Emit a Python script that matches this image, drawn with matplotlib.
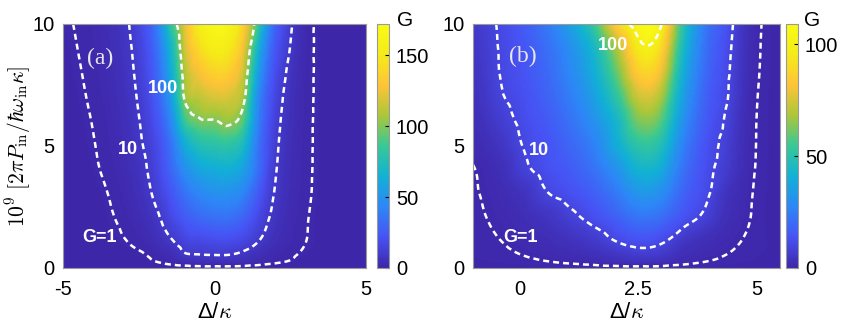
import numpy as np
import matplotlib
matplotlib.use('Agg')
import matplotlib.pyplot as plt
import matplotlib.tri as mtri
from matplotlib.colors import LinearSegmentedColormap

# detuning (columns) and pump power (rows) of the gain maps
delta_a = [-5.0, -4.5, -4.0, -3.5, -3.0, -2.5, -2.0, -1.5, -1.0, -0.5, 0.0,
           0.5, 1.0, 1.5, 2.0, 2.5, 3.0, 3.5, 4.0, 4.5, 5.0]
power_a = [0, 0.25, 0.5, 1, 2, 3, 4, 5, 6, 7, 8, 9, 10]
gain_a = [
    [0.1, 0.1, 0.1, 0.1, 0.1, 0.1, 0.15, 0.3, 0.42, 0.5, 0.52, 0.52, 0.45, 0.35, 0.22, 0.14, 0.1, 0.1, 0.1, 0.1, 0.1],
    [0.1, 0.1, 0.1, 0.1, 0.15, 0.35, 0.85, 1.9, 3.3, 4.3, 4.7, 4.6, 3.8, 2.4, 1.4, 0.8, 0.4, 0.2, 0.13, 0.1, 0.1],
    [0.1, 0.1, 0.13, 0.2, 0.3, 0.6, 1.5, 3.4, 8.0, 9.0, 9.4, 9.2, 7.0, 4.0, 2.1, 1.25, 0.65, 0.3, 0.18, 0.12, 0.1],
    [0.1, 0.12, 0.2, 0.36, 0.76, 1.62, 3.46, 7.4, 13.5, 15.5, 17, 17, 14, 8.65, 4.04, 2.01, 1.0, 0.5, 0.25, 0.15, 0.1],
    [0.1, 0.17, 0.33, 0.71, 1.53, 3.29, 7.04, 15.1, 24, 30, 33, 33, 27, 15.5, 7.1, 2.85, 1.19, 0.5, 0.25, 0.15, 0.1],
    [0.12, 0.21, 0.46, 1.02, 2.24, 4.92, 11.0, 21, 34, 43, 47, 47, 40, 23, 9.2, 3.63, 1.45, 0.58, 0.28, 0.17, 0.1],
    [0.18, 0.35, 0.72, 1.51, 3.14, 6.5, 14, 28, 46, 58, 62, 63, 54, 31, 11, 4.1, 1.58, 0.6, 0.29, 0.17, 0.1],
    [0.2, 0.43, 0.9, 1.89, 3.95, 8.26, 16, 32, 60, 75, 79, 80, 68, 33, 12.5, 4.6, 1.66, 0.6, 0.28, 0.16, 0.1],
    [0.26, 0.54, 1.1, 2.27, 4.66, 9.56, 19.7, 40.4, 83, 97, 98.5, 103, 86, 38, 14.3, 5.2, 1.76, 0.59, 0.28, 0.16, 0.1],
    [0.34, 0.69, 1.38, 2.75, 5.5, 11.1, 23.4, 49.5, 101, 112.8, 119, 118.5, 101, 41.6, 16.7, 6.0, 1.9, 0.6, 0.28, 0.16, 0.1],
    [0.44, 0.85, 1.66, 3.23, 6.28, 12.5, 26.6, 56.5, 106.6, 127.3, 137, 134, 110.5, 51, 20.2, 7.4, 2.08, 0.59, 0.28, 0.16, 0.1],
    [0.54, 1.03, 1.95, 3.69, 6.99, 13.9, 29.5, 62.7, 114.5, 142, 154, 149, 121, 61, 24.5, 9.7, 2.34, 0.56, 0.27, 0.16, 0.1],
    [0.66, 1.23, 2.28, 4.2, 7.8, 15.9, 34, 76, 122, 155, 169, 163, 133, 78, 30, 11.8, 2.65, 0.52, 0.25, 0.15, 0.1],
]

delta_b = [-1.0, -0.5, 0.0, 0.5, 1.0, 1.5, 2.0, 2.5, 3.0, 3.5, 4.0, 4.5, 5.0, 5.5]
power_b = [0, 0.25, 0.5, 1, 2, 3, 4, 5, 6, 7, 8, 9, 10]
gain_b = [
    [0.2, 0.25, 0.3, 0.36, 0.43, 0.5, 0.56, 0.6, 0.58, 0.5, 0.4, 0.3, 0.23, 0.18],
    [0.34, 0.47, 0.65, 0.89, 1.23, 1.69, 2.7, 3.45, 3.0, 1.5, 0.91, 0.56, 0.38, 0.25],
    [0.45, 0.65, 0.94, 1.36, 1.96, 2.83, 4.6, 6.4, 5.6, 2.5, 1.42, 0.81, 0.46, 0.3],
    [0.56, 0.87, 1.37, 2.15, 3.4, 5.3, 9.0, 11.8, 10.0, 4.5, 2.33, 1.2, 0.62, 0.3],
    [0.7, 1.26, 2.28, 4.1, 7.4, 11.5, 16.5, 21.8, 20, 12.5, 7.0, 2.1, 0.75, 0.18],
    [0.8, 1.7, 3.65, 8.8, 12.2, 16.4, 23, 31.5, 29, 17.1, 10.1, 2.9, 0.8, 0.17],
    [0.9, 2.4, 7.6, 12.0, 15.6, 21.1, 30, 41.5, 38, 20.8, 11.4, 5.0, 0.9, 0.18],
    [1.6, 4.2, 9.5, 13.3, 18.3, 25, 38, 51, 47, 24.4, 12.6, 6.0, 0.97, 0.2],
    [2.6, 6.5, 11, 15.2, 21.2, 29.6, 42, 62, 57, 28.7, 14.5, 6.8, 1.0, 0.19],
    [3.5, 8.5, 12.3, 17.3, 24.3, 34.1, 50, 73, 67, 33, 16.2, 8.0, 1.1, 0.2],
    [4.4, 9.4, 13.3, 18.9, 26.9, 38.3, 58, 85, 78, 37.4, 18, 8.5, 1.26, 0.22],
    [5.2, 9.7, 14, 20.2, 29.1, 42, 66, 95.6, 88, 42, 19.6, 9.2, 1.38, 0.23],
    [6.0, 10.1, 15.1, 22.9, 34.2, 51.3, 84, 106.5, 99.5, 47, 21.3, 10.1, 1.52, 0.22],
]

contour_levels = [1, 10, 100]

# parula-like colormap
parula = LinearSegmentedColormap.from_list('parula', [
    (0.2422, 0.1504, 0.6603), (0.2810, 0.3228, 0.9579), (0.1786, 0.5289, 0.9682),
    (0.0689, 0.6948, 0.8394), (0.2161, 0.7843, 0.5923), (0.6720, 0.7793, 0.2227),
    (0.9970, 0.7659, 0.2199), (0.9598, 0.9218, 0.0948), (0.9769, 0.9839, 0.0805)])

plt.rcParams['font.family'] = ['Liberation Sans', 'DejaVu Sans']
plt.rcParams['mathtext.fontset'] = 'cm'
plt.rcParams['axes.unicode_minus'] = False
plt.rcParams['lines.dashed_pattern'] = [2.4, 1.6]

label_font = ['Liberation Sans Narrow', 'Liberation Sans', 'DejaVu Sans']


def draw_panel(ax, cax, delta, power, gain, vmax, cticks):
    x, y = np.meshgrid(delta, power)
    nx = len(delta)
    tris = []
    for j in range(len(power) - 1):
        for i in range(nx - 1):
            k = j * nx + i
            tris.append([k, k + 1, k + nx + 1])
            tris.append([k, k + nx + 1, k + nx])
    tri = mtri.Triangulation(x.ravel(), y.ravel(), tris)
    logg = np.log10(np.asarray(gain, dtype=float).ravel())
    interp = mtri.CubicTriInterpolator(tri, logg, kind='geom')
    fine_tri, fine_log = mtri.UniformTriRefiner(tri).refine_field(logg, triinterpolator=interp, subdiv=4)
    img = ax.tripcolor(fine_tri, 10 ** fine_log, shading='gouraud', cmap=parula,
                       vmin=0, vmax=vmax, rasterized=True)
    ax.tricontour(fine_tri, fine_log, levels=np.log10(contour_levels), colors='white',
                  linestyles='dashed', linewidths=1.8)
    ax.set_xlim(delta[0], delta[-1])
    ax.set_ylim(0, 10)
    ax.set_yticks([0, 5, 10])
    ax.tick_params(direction='in', length=0, labelsize=14.5)
    ax.tick_params(axis='x', pad=9)
    ax.tick_params(axis='y', pad=6)
    for s in ax.spines.values():
        s.set_edgecolor('0.6')
    ax.set_xlabel('Δ/$\\kappa$', fontsize=16, labelpad=2)
    cb = plt.colorbar(img, cax=cax, ticks=cticks)
    cb.outline.set_edgecolor('0.6')
    cax.tick_params(direction='in', length=3, labelsize=14.5, pad=5)


fig = plt.figure(figsize=(8.46, 3.36), dpi=100)
ax1 = fig.add_axes([0.0745, 0.2024, 0.3581, 0.7262])
cax1 = fig.add_axes([0.4456, 0.2024, 0.0142, 0.7262])
ax2 = fig.add_axes([0.5591, 0.2024, 0.3629, 0.7262])
cax2 = fig.add_axes([0.9291, 0.2024, 0.0142, 0.7262])

draw_panel(ax1, cax1, delta_a, power_a, gain_a, 172, [0, 50, 100, 150])
ax1.set_xticks([-5, 0, 5])
ax1.set_ylabel(r'$10^9\ [2\pi P_{\rm in}/\hbar\omega_{\rm in}\kappa]$', fontsize=15.5)
ax1.yaxis.set_label_coords(-0.1, 0.5)

draw_panel(ax2, cax2, delta_b, power_b, gain_b, 109, [0, 50, 100])
ax2.set_xticks([0, 2.5, 5])
ax2.set_xticklabels(['0', '2.5', '5'])

lab = dict(color='white', fontsize=13, fontweight='bold', family=label_font,
           ha='center', va='center')
ax1.text(-3.79, 1.23, 'G=1', **lab)
ax1.text(-2.87, 4.85, '10', **lab)
ax1.text(-1.69, 7.34, '100', **lab)
ax2.text(0.0, 1.23, 'G=1', **lab)
ax2.text(0.40, 4.82, '10', **lab)
ax2.text(1.97, 9.13, '100', **lab)

tag = dict(color='0.9', fontsize=17, family=['Liberation Serif', 'DejaVu Serif'],
           ha='center', va='center')
ax1.text(-3.79, 8.6, '(a)', **tag)
ax2.text(0.05, 8.67, '(b)', **tag)

fig.text(405 / 846, 1 - 20 / 336, 'G', fontsize=15, ha='center', va='center')
fig.text(812 / 846, 1 - 20 / 336, 'G', fontsize=15, ha='center', va='center')

fig.savefig('out.png', dpi=100)
